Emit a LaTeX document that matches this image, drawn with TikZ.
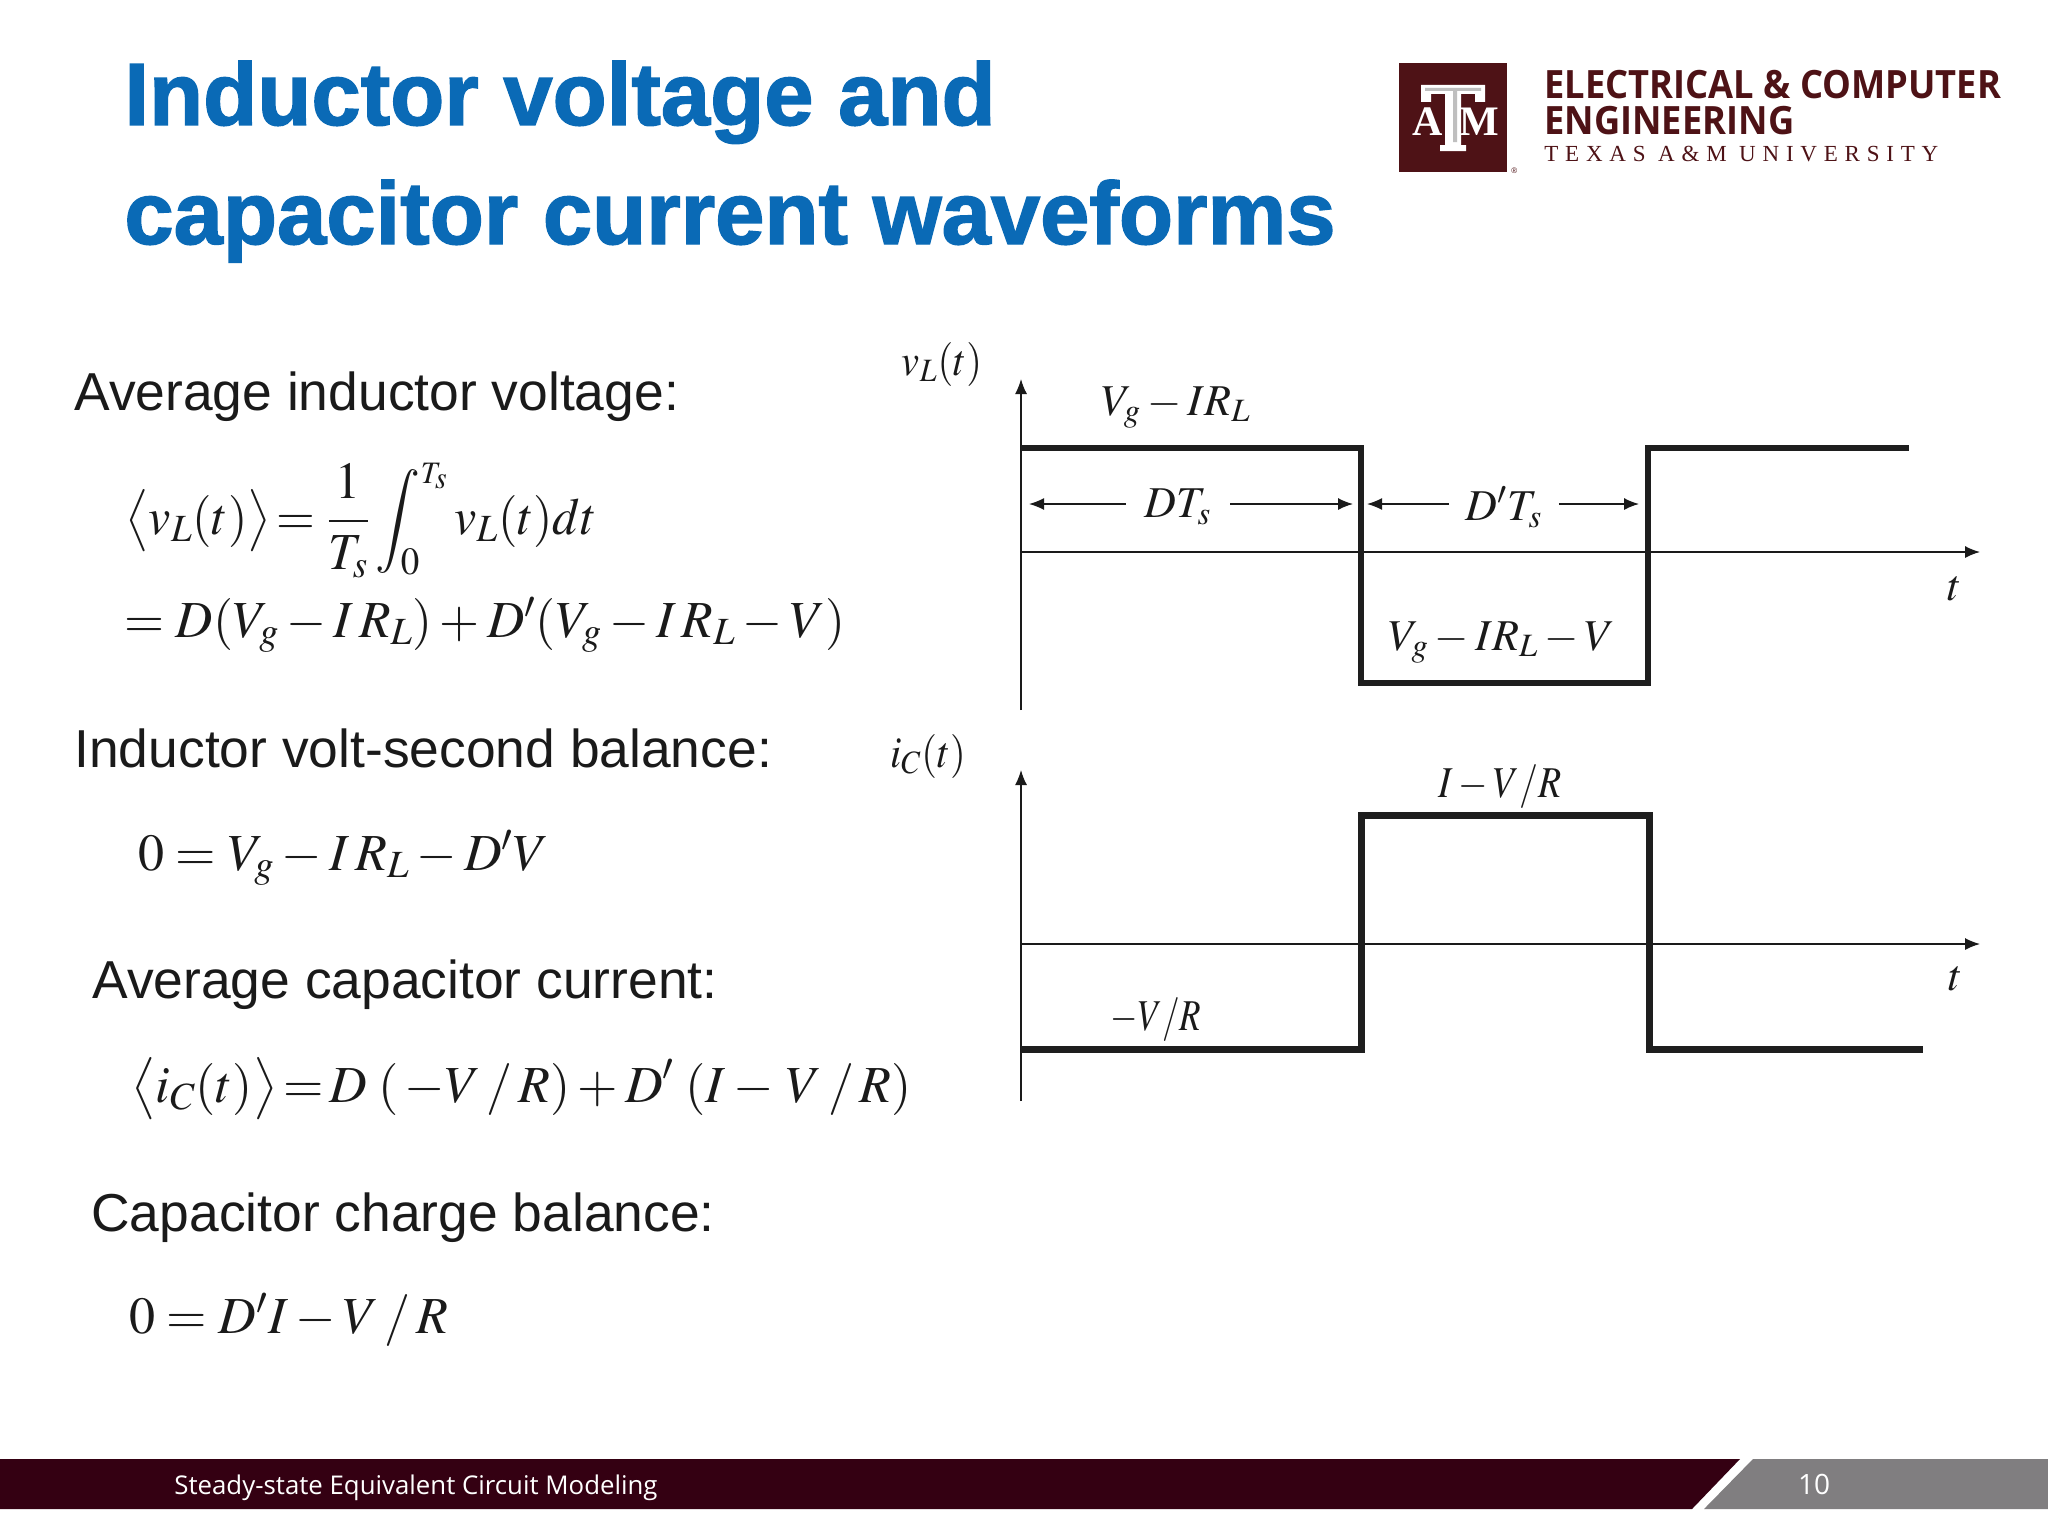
\documentclass[tikz,border=0pt]{standalone}
\usepackage{fontspec}
\usepackage{mathptmx}
\usepackage{graphicx}
\usetikzlibrary{arrows.meta}
\setmainfont{Liberation Sans}
\newfontfamily\serifface{Liberation Serif}
\newfontfamily\openface{Open Sans}
\newfontfamily\spacedface[LetterSpace=29.5]{Liberation Serif}
\newfontfamily\heavyface[FakeBold=1.6]{Liberation Sans Bold}
\definecolor{titleblue}{HTML}{0A6AB6}
\definecolor{aggie}{HTML}{4E1216}
\definecolor{footmaroon}{HTML}{340012}
\definecolor{footgray}{HTML}{807E80}
\definecolor{wavecol}{HTML}{1E1E1E}
\definecolor{texcol}{HTML}{1A1A1A}
\newcommand{\fsize}[1]{\fontsize{#1}{#1}\selectfont}
\newcommand{\nar}[2]{\scalebox{#1}[1]{#2}}
\begin{document}
\begin{tikzpicture}[x=.5pt, y=-.5pt, >={Latex[length=7.5pt,width=6pt]},
	every node/.style={anchor=base west, inner sep=0pt, text=texcol},
	titletext/.style={text=titleblue, font=\fsize{44.3}\heavyface},
	bodytext/.style={font=\fsize{26.7}},
	eqtext/.style={font=\fsize{26}\serifface},
	wavetext/.style={anchor=base, font=\fsize{22}\serifface},
	axis/.style={line width=.7pt, draw=texcol},
	wavea/.style={line width=2.6pt, draw=wavecol},
	waveb/.style={line width=3.5pt, draw=wavecol},
	dimline/.style={line width=.7pt, draw=texcol}]
	\useasboundingbox (0,0) rectangle (2048,1536);
	\fill[white] (0,0) rectangle (2048,1536);
	\node[titletext] (titleA) at (124,125) {Inductor voltage and};
	\node[titletext] (titleB) at (124,244) {capacitor current waveforms};
	\fill[aggie] (1399,63) rectangle (1507,172);
	\node[anchor=base, text=white, font=\fsize{21}\serifface\bfseries] (logoA) at (1428,135) {A};
	\node[anchor=base, text=white, font=\fsize{21}\serifface\bfseries] (logoM) at (1479,135) {M};
	\fill[white] (1421,85) -- (1485,85) -- (1485,102) -- (1475,102) -- (1475,94) -- (1461,94) -- (1461,145) -- (1466,145) -- (1466,151) -- (1440,151) -- (1440,145) -- (1445,145) -- (1445,94) -- (1431,94) -- (1431,102) -- (1421,102) -- cycle;
	\fill[lightgray] (1425,88) -- (1481,88) -- (1481,91) -- (1457,91) -- (1457,142) -- (1453,142) -- (1453,91) -- (1425,91) -- cycle;
	\node[text=aggie, font=\fsize{4}] (logoReg) at (1511,173) {®};
	\node[text=aggie, font=\fsize{19.5}\openface\bfseries] (deptA) at (1544,98) {\nar{.93}{ELECTRICAL \& COMPUTER}};
	\node[text=aggie, font=\fsize{19.5}\openface\bfseries] (deptB) at (1544,134) {\nar{.93}{ENGINEERING}};
	\node[text=aggie, font=\fsize{11.5}\spacedface] (deptC) at (1544,162) {TEXAS A\&M UNIVERSITY};
	\node[bodytext] (avgV) at (74,410) {Average inductor voltage:};
	\node[eqtext] (eqA) at (125,534) {\nar{.96}{$\displaystyle\big\langle v_L(t)\big\rangle\!=\frac{1}{T_s}\int_0^{\scriptscriptstyle T_s}v_L(t)dt$}};
	\node[eqtext] (eqB) at (124,637) {\nar{.99}{$=D(V_g-I\,R_L)+D'(V_g-I\,R_L-V)$}};
	\node[bodytext] (balV) at (74,767) {Inductor volt-second balance:};
	\node[eqtext] (eqC) at (138,870) {$0=V_g-I\,R_L-D'V$};
	\node[bodytext] (avgI) at (92,998) {Average capacitor current:};
	\node[eqtext] (eqD) at (131,1102) {$\displaystyle\big\langle i_C(t)\big\rangle\!=\!D\;(\,-V\,/\,R)+D'\;(I-\,V\,/\,R)$};
	\node[bodytext] (balI) at (91,1231) {Capacitor charge balance:};
	\node[eqtext] (eqE) at (129,1333) {$0=D'I-V\,/\,R$};
	\coordinate (vOrigin) at (1021,552);
	\coordinate (vTop) at (1021,379);
	\coordinate (vBottom) at (1021,710);
	\coordinate (vRight) at (1980,552);
	\draw[axis,->] (vBottom) -- (vTop);
	\draw[axis,->] (vOrigin) -- (vRight);
	\coordinate (vA) at (1021,448);
	\coordinate (vB) at (1361,448);
	\coordinate (vC) at (1361,683);
	\coordinate (vD) at (1648,683);
	\coordinate (vE) at (1648,448);
	\coordinate (vF) at (1909,448);
	\draw[wavea] (vA) -- (vB) -- (vC) -- (vD) -- (vE) -- (vF);
	\node[wavetext] (vLabel) at (942,375) {\nar{.92}{$v_L(t)$}};
	\node[wavetext] (vHigh) at (1176,415) {$V_g-IR_L$};
	\node[wavetext] (vLow) at (1502,650) {$V_g-IR_L-V$};
	\node[wavetext] (vT) at (1955,600) {$t$};
	\node[wavetext, anchor=center, minimum width=104pt*.5] (dts) at (1178,507) {$DT_s$};
	\coordinate (dtsL) at (1029,504);
	\coordinate (dtsR) at (1353,504);
	\draw[dimline,->] (dts.west |- dtsL) -- (dtsL);
	\draw[dimline,->] (dts.east |- dtsR) -- (dtsR);
	\node[wavetext, anchor=center, minimum width=109pt*.5] (dpts) at (1504,507) {$D'T_s$};
	\coordinate (dptsL) at (1367,504);
	\coordinate (dptsR) at (1639,504);
	\draw[dimline,->] (dpts.west |- dptsL) -- (dptsL);
	\draw[dimline,->] (dpts.east |- dptsR) -- (dptsR);
	\coordinate (iOrigin) at (1021,944);
	\coordinate (iTop) at (1021,770);
	\coordinate (iBottom) at (1021,1101);
	\coordinate (iRight) at (1980,944);
	\draw[axis,->] (iBottom) -- (iTop);
	\draw[axis,->] (iOrigin) -- (iRight);
	\coordinate (iA) at (1021,1049);
	\coordinate (iB) at (1361,1049);
	\coordinate (iC) at (1361,815);
	\coordinate (iD) at (1649,815);
	\coordinate (iE) at (1649,1049);
	\coordinate (iF) at (1923,1049);
	\draw[waveb] (iA) -- (iB) -- (iC) -- (iD) -- (iE) -- (iF);
	\node[wavetext] (iLabel) at (928,767) {\nar{.92}{$i_C(t)$}};
	\node[wavetext] (iHigh) at (1500,797) {\nar{.86}{$I-V/R$}};
	\node[wavetext] (iLow) at (1156,1030) {\nar{.8}{$-V/R$}};
	\node[wavetext] (iT) at (1956,990) {$t$};
	\fill[footmaroon] (0,1459) -- (1740,1459) -- (1692,1509) -- (0,1509) -- cycle;
	\fill[footgray] (1753,1459) -- (2048,1459) -- (2048,1509) -- (1704,1509) -- cycle;
	\node[text=white, font=\fsize{12.9}\openface] (footText) at (174,1494) {Steady-state Equivalent Circuit Modeling};
	\node[anchor=base, text=white, font=\fsize{14}\openface] (footPage) at (1814,1494) {10};
\end{tikzpicture}
\end{document}
